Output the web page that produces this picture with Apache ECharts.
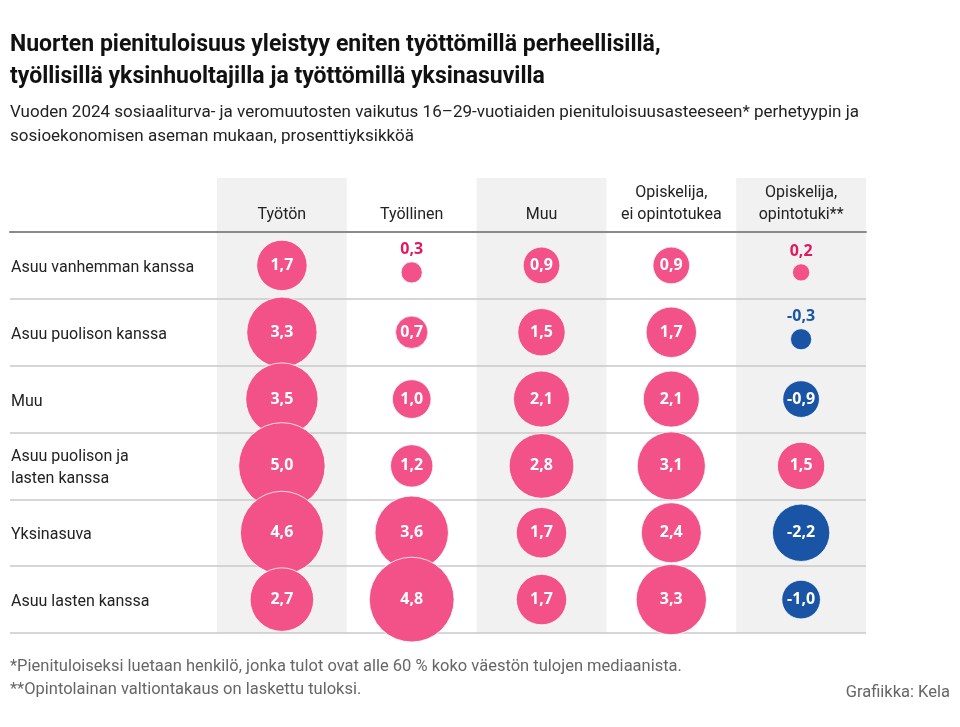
<!DOCTYPE html>
<html><head><meta charset="utf-8">
<script src="https://cdn.jsdelivr.net/npm/echarts@6/dist/echarts.min.js"></script>
<style>html,body{margin:0;padding:0;background:#fff}#c{width:960px;height:727px}</style>
</head><body><div id="c"></div>
<script>
const columns = ['Työtön', 'Työllinen', 'Muu', 'Opiskelija,\nei opintotukea', 'Opiskelija,\nopintotuki**'];
const rows = ['Asuu vanhemman kanssa', 'Asuu puolison kanssa', 'Muu', 'Asuu puolison ja\nlasten kanssa', 'Yksinasuva', 'Asuu lasten kanssa'];
const tyoton = [1.7, 3.3, 3.5, 5.0, 4.6, 2.7];
const tyollinen = [0.3, 0.7, 1.0, 1.2, 3.6, 4.8];
const muu = [0.9, 1.5, 2.1, 2.8, 1.7, 1.7];
const opiskelijaEiTukea = [0.9, 1.7, 2.1, 3.1, 2.4, 3.3];
const opiskelijaTuki = [0.2, -0.3, -0.9, 1.5, -2.2, -1.0];
const columnValues = [tyoton, tyollinen, muu, opiskelijaEiTukea, opiskelijaTuki];

const PINK = '#f25287', PINK_TXT = '#e3175f', BLUE = '#1a54a5';
const SCALE = 38.7;
const fmt = v => v.toFixed(1).replace('.', ',');

const TITLE_LINE1 = 'Nuorten pienituloisuus yleistyy eniten työttömillä perheellisillä,';
const TITLE_LINE2 = 'työllisillä yksinhuoltajilla ja työttömillä yksinasuvilla';
// fit the title width to the reference (about 695 px for line 1)
const TITLE_FONT = 'Roboto';
const cv = document.createElement('canvas').getContext('2d');
cv.font = 'bold 23px ' + TITLE_FONT;
const w1 = cv.measureText(TITLE_LINE1).width;
const titleSize = Math.min(23, 23 * 700 / w1);

const data = [];
columnValues.forEach((arr, ci) => {
  arr.forEach((v, ri) => {
    const small = Math.abs(v) < 0.5;
    const pos = v >= 0;
    data.push({
      value: [ci, ri, v],
      symbolSize: SCALE * Math.sqrt(Math.abs(v)),
      symbolOffset: small ? [0, 7] : [0, 0],
      itemStyle: { color: pos ? PINK : BLUE },
      label: small ? {
        position: 'top', distance: 4, color: pos ? PINK_TXT : BLUE
      } : { position: 'inside', color: '#fff' }
    });
  });
});

const chart = echarts.init(document.getElementById('c'), null, { renderer: 'canvas' });
const FONT = 'Roboto';
chart.setOption({
  animation: false,
  backgroundColor: '#fff',
  title: [
    { text: TITLE_LINE1 + '\n' + TITLE_LINE2,
      left: 10, top: 29, padding: 0,
      textStyle: { fontFamily: TITLE_FONT, fontWeight: 'bold', fontSize: titleSize, lineHeight: 32, color: '#111' } },
    { text: 'Vuoden 2024 sosiaaliturva- ja veromuutosten vaikutus 16–29-vuotiaiden pienituloisuusasteeseen* perhetyypin ja\nsosioekonomisen aseman mukaan, prosenttiyksikköä',
      left: 10, top: 101, padding: 0,
      textStyle: { fontFamily: FONT, fontWeight: 'normal', fontSize: 17, lineHeight: 24, color: '#222' } },
    { text: '*Pienituloiseksi luetaan henkilö, jonka tulot ovat alle 60 % koko väestön tulojen mediaanista.\n**Opintolainan valtiontakaus on laskettu tuloksi.',
      left: 10, top: 655, padding: 0,
      textStyle: { fontFamily: FONT, fontWeight: 'normal', fontSize: 16.5, lineHeight: 23, color: '#666' } },
    { text: 'Grafiikka: Kela', right: 10, top: 681, padding: 0,
      textStyle: { fontFamily: FONT, fontWeight: 'normal', fontSize: 16.5, lineHeight: 23, color: '#666' } }
  ],
  grid: [
    { left: 10, right: 94, top: 232, height: 401 },   // full table (labels + lines)
    { left: 217, right: 94, top: 232, height: 401 },  // bubbles
    { left: 217, right: 94, top: 178, height: 54 }    // header
  ],
  xAxis: [
    { gridIndex: 0, type: 'value', position: 'top', min: 0, max: 1,
      axisLine: { show: true, onZero: false, lineStyle: { color: '#8a8a8a', width: 2 } },
      axisTick: { show: false }, axisLabel: { show: false }, splitLine: { show: false }, z: 5 },
    { gridIndex: 1, type: 'category', data: columns,
      axisLine: { show: false }, axisTick: { show: false }, axisLabel: { show: false },
      splitArea: { show: true, areaStyle: { color: ['#f1f1f1', 'rgba(255,255,255,0)'] } } },
    { gridIndex: 2, type: 'category', data: columns, position: 'bottom',
      axisLine: { show: false }, axisTick: { show: false },
      axisLabel: { inside: true, margin: 6, interval: 0, fontFamily: FONT, fontSize: 16, lineHeight: 22, color: '#222', align: 'center' },
      splitArea: { show: true, areaStyle: { color: ['#f1f1f1', 'rgba(255,255,255,0)'] } } }
  ],
  yAxis: [
    { gridIndex: 0, type: 'category', data: rows, inverse: true,
      axisLine: { show: false }, axisTick: { show: false },
      axisLabel: { inside: true, margin: 1, interval: 0, color: '#222', align: 'left',
        formatter: v => v.split('\n').map(s => '{r|' + s + '}').join('\n'),
        rich: { r: { fontFamily: FONT, fontSize: 16, lineHeight: 22, color: '#222', padding: [5, 0, 0, 0] } } },
      splitLine: { show: true, lineStyle: { color: '#c8c8c8', width: 1.5 } }, z: 4 },
    { gridIndex: 1, type: 'category', data: rows, inverse: true, show: false },
    { gridIndex: 2, type: 'value', show: false }
  ],
  series: [{
    type: 'scatter', xAxisIndex: 1, yAxisIndex: 1, z: 10,
    data: data,
    itemStyle: { borderColor: '#fff', borderWidth: 0.8, opacity: 1 },
    label: { show: true, formatter: p => fmt(p.value[2]), fontFamily: 'Noto Sans', fontWeight: 'bold', fontSize: 16 },
    emphasis: { disabled: true }
  }]
});
</script></body></html>
